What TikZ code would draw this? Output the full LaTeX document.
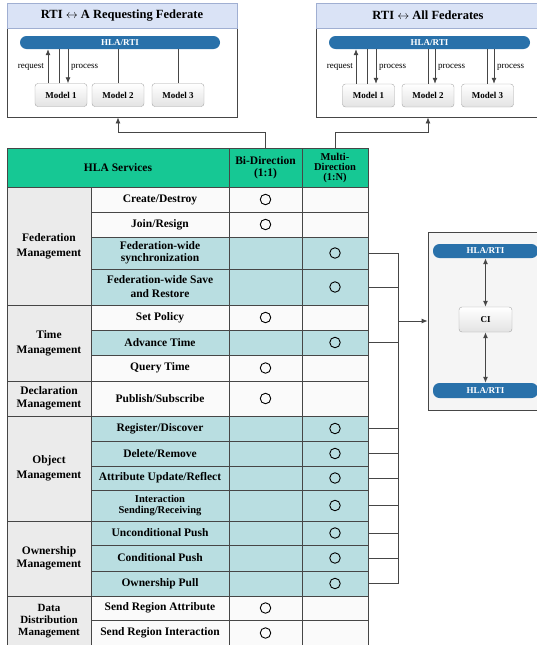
\documentclass[tikz,border=0pt]{standalone}
\usepackage{fontspec}
\setmainfont{Liberation Serif}
\usetikzlibrary{arrows.meta, positioning, calc}
\definecolor{hdrgreen}{RGB}{22, 200, 148}
\definecolor{rowblue}{RGB}{185, 222, 225}
\definecolor{rowwhite}{RGB}{250, 250, 250}
\definecolor{groupgray}{RGB}{235, 235, 235}
\definecolor{pillblue}{RGB}{41, 113, 170}
\definecolor{titleblue}{RGB}{218, 227, 246}
\definecolor{titleedge}{RGB}{160, 175, 210}
\definecolor{cibg}{RGB}{245, 245, 245}
\definecolor{gridgray}{RGB}{70, 70, 70}

\begin{document}
\begin{tikzpicture}[x=1pt, y=-1pt,
  grid/.style={draw=gridgray, line width=0.8pt, inner sep=1pt},
  svc/.style={grid, minimum width=138, align=center, font=\fontsize{11.5}{12.5}\selectfont\bfseries},
  bicell/.style={grid, minimum width=73},
  multicell/.style={grid, minimum width=66},
  group/.style={grid, fill=groupgray, minimum width=84, align=center, font=\fontsize{11.5}{15}\selectfont\bfseries},
  head/.style={grid, fill=hdrgreen, minimum height=39, align=center, font=\fontsize{11.5}{12}\selectfont\bfseries},
  ring/.style={circle, draw=black, line width=0.9pt, minimum size=10.5, inner sep=0},
  pill/.style={fill=pillblue, rounded corners=6.5, minimum height=13, inner sep=0, text=white, font=\fontsize{9}{10}\selectfont\bfseries},
  model/.style={draw=gray!70, rounded corners=3, top color=white, bottom color=gray!22, minimum width=52, minimum height=23, inner sep=0, font=\fontsize{9}{10}\selectfont\bfseries},
  frame/.style={draw=gridgray, line width=0.8pt, inner sep=0},
  titlebar/.style={draw=titleedge, fill=titleblue, minimum height=25, inner sep=0, font=\fontsize{12.5}{14}\selectfont\bfseries},
  tag/.style={inner sep=1pt, font=\fontsize{9}{10}\selectfont},
  wire/.style={draw=gridgray, line width=0.8pt},
  >={Latex[length=6pt, width=5pt]}
]
  \useasboundingbox (0,0) rectangle (537,645);

  % RTI <-> A Requesting Federate
  \node[frame, minimum width=230, minimum height=114] (lbox) at (122,60) {};
  \node[titlebar, minimum width=230] (ltitle) at (122,15.5) {RTI $\leftrightarrow$ A Requesting Federate};
  \node[pill, minimum width=200] (lpill) at (120,42.5) {HLA/RTI};
  \node[model] (lm1) at (61,95) {Model 1};
  \node[model] (lm2) at (118,95) {Model 2};
  \node[model] (lm3) at (178,95) {Model 3};

  \draw[wire, ->] ([xshift=-13]lm1.north) -- ([xshift=-13]lm1.north |- lpill.south);
  \draw[wire] ([xshift=-2]lm1.north) -- ([xshift=-2]lm1.north |- lpill.south);
  \draw[wire, ->] ([xshift=7]lm1.north |- lpill.south) -- ([xshift=7]lm1.north);
  \draw[wire] (lm2.north) -- (lm2.north |- lpill.south);
  \draw[wire] (lm3.north) -- (lm3.north |- lpill.south);
  \node[tag, anchor=east] (lreq) at (45,67) {request};
  \node[tag, anchor=west] (lproc) at (70,67) {process};

  % RTI <-> All Federates
  \node[frame, minimum width=224, minimum height=114] (rbox) at (428,60) {};
  \node[titlebar, minimum width=224] (rtitle) at (428,15.5) {RTI $\leftrightarrow$ All Federates};
  \node[pill, minimum width=201] (rpill) at (429.5,42.5) {HLA/RTI};
  \node[model] (rm1) at (368.5,95.5) {Model 1};
  \node[model] (rm2) at (428,95.5) {Model 2};
  \node[model] (rm3) at (487.5,95.5) {Model 3};

  \draw[wire, ->] ([xshift=-12.5]rm1.north) -- ([xshift=-12.5]rm1.north |- rpill.south);
  \draw[wire] ([xshift=-1.5]rm1.north) -- ([xshift=-1.5]rm1.north |- rpill.south);
  \draw[wire, ->] ([xshift=7.5]rm1.north |- rpill.south) -- ([xshift=7.5]rm1.north);
  \draw[wire] (rm2.north) -- (rm2.north |- rpill.south);
  \draw[wire, ->] ([xshift=7]rm2.north |- rpill.south) -- ([xshift=7]rm2.north);
  \draw[wire] (rm3.north) -- (rm3.north |- rpill.south);
  \draw[wire, ->] ([xshift=6.5]rm3.north |- rpill.south) -- ([xshift=6.5]rm3.north);
  \node[tag, anchor=east] (rreq) at (354,67) {request};
  \node[tag, anchor=west] (rproc1) at (378,67) {process};
  \node[tag, anchor=west] (rproc2) at (437,67) {process};
  \node[tag, anchor=west] (rproc3) at (496,67) {process};

  % Table header
  \node[head, minimum width=222] (hSvc) at (118,167.5) {HLA Services};
  \node[head, minimum width=73] (hBi) at (265.5,167.5) {Bi-Direction\\(1:1)};
  \node[head, minimum width=66, font=\fontsize{10.5}{10}\selectfont\bfseries] (hMulti) at (335,167.5) {Multi-\\Direction\\(1:N)};

  % Service groups
  \node[group, minimum height=118] (gFed) at (49,246) {Federation\\Management};
  \node[group, minimum height=76] (gTime) at (49,343) {Time\\Management};
  \node[group, minimum height=35, font=\fontsize{11.5}{12.5}\selectfont\bfseries] (gDecl) at (49,398.5) {Declaration\\Management};
  \node[group, minimum height=105] (gObj) at (49,468.5) {Object\\Management};
  \node[group, minimum height=75, font=\fontsize{11.5}{13}\selectfont\bfseries] (gOwn) at (49,558.5) {Ownership\\Management};
  \node[group, minimum height=50, font=\fontsize{11}{12}\selectfont\bfseries] (gDdm) at (49,621) {Data\\Distribution\\Management};

  % Services
  \node[svc, fill=rowwhite, minimum height=25] (s1) at (160,199.5) {Create/Destroy};
  \node[svc, fill=rowwhite, minimum height=25] (s2) at (160,224.5) {Join/Resign};
  \node[svc, fill=rowblue, minimum height=32, font=\fontsize{11.5}{12}\selectfont\bfseries] (s3) at (160,253) {Federation-wide\\synchronization};
  \node[svc, fill=rowblue, minimum height=36, font=\fontsize{11.5}{14}\selectfont\bfseries] (s4) at (160,287) {Federation-wide Save\\and Restore};
  \node[svc, fill=rowwhite, minimum height=25] (s5) at (160,317.5) {Set Policy};
  \node[svc, fill=rowblue, minimum height=25] (s6) at (160,342.5) {Advance Time};
  \node[svc, fill=rowwhite, minimum height=26] (s7) at (160,368) {Query Time};
  \node[svc, fill=rowwhite, minimum height=35] (s8) at (160,398.5) {Publish/Subscribe};
  \node[svc, fill=rowblue, minimum height=25] (s9) at (160,428.5) {Register/Discover};
  \node[svc, fill=rowblue, minimum height=25] (s10) at (160,453.5) {Delete/Remove};
  \node[svc, fill=rowblue, minimum height=24] (s11) at (160,478) {Attribute Update/Reflect};
  \node[svc, fill=rowblue, minimum height=31, font=\fontsize{10.5}{11.5}\selectfont\bfseries] (s12) at (160,505.5) {Interaction\\Sending/Receiving};
  \node[svc, fill=rowblue, minimum height=24] (s13) at (160,533) {Unconditional Push};
  \node[svc, fill=rowblue, minimum height=26] (s14) at (160,558) {Conditional Push};
  \node[svc, fill=rowblue, minimum height=25] (s15) at (160,583.5) {Ownership Pull};
  \node[svc, fill=rowwhite, minimum height=24] (s16) at (160,608) {Send Region Attribute};
  \node[svc, fill=rowwhite, minimum height=26] (s17) at (160,633) {Send Region Interaction};

  % Bi-direction column
  \node[bicell, fill=rowwhite, minimum height=25] (b1) at (265.5,199.5) {};
  \node[bicell, fill=rowwhite, minimum height=25] (b2) at (265.5,224.5) {};
  \node[bicell, fill=rowblue, minimum height=32] (b3) at (265.5,253) {};
  \node[bicell, fill=rowblue, minimum height=36] (b4) at (265.5,287) {};
  \node[bicell, fill=rowwhite, minimum height=25] (b5) at (265.5,317.5) {};
  \node[bicell, fill=rowblue, minimum height=25] (b6) at (265.5,342.5) {};
  \node[bicell, fill=rowwhite, minimum height=26] (b7) at (265.5,368) {};
  \node[bicell, fill=rowwhite, minimum height=35] (b8) at (265.5,398.5) {};
  \node[bicell, fill=rowblue, minimum height=25] (b9) at (265.5,428.5) {};
  \node[bicell, fill=rowblue, minimum height=25] (b10) at (265.5,453.5) {};
  \node[bicell, fill=rowblue, minimum height=24] (b11) at (265.5,478) {};
  \node[bicell, fill=rowblue, minimum height=31] (b12) at (265.5,505.5) {};
  \node[bicell, fill=rowblue, minimum height=24] (b13) at (265.5,533) {};
  \node[bicell, fill=rowblue, minimum height=26] (b14) at (265.5,558) {};
  \node[bicell, fill=rowblue, minimum height=25] (b15) at (265.5,583.5) {};
  \node[bicell, fill=rowwhite, minimum height=24] (b16) at (265.5,608) {};
  \node[bicell, fill=rowwhite, minimum height=26] (b17) at (265.5,633) {};

  % Multi-direction column
  \node[multicell, fill=rowwhite, minimum height=25] (m1) at (335,199.5) {};
  \node[multicell, fill=rowwhite, minimum height=25] (m2) at (335,224.5) {};
  \node[multicell, fill=rowblue, minimum height=32] (m3) at (335,253) {};
  \node[multicell, fill=rowblue, minimum height=36] (m4) at (335,287) {};
  \node[multicell, fill=rowwhite, minimum height=25] (m5) at (335,317.5) {};
  \node[multicell, fill=rowblue, minimum height=25] (m6) at (335,342.5) {};
  \node[multicell, fill=rowwhite, minimum height=26] (m7) at (335,368) {};
  \node[multicell, fill=rowwhite, minimum height=35] (m8) at (335,398.5) {};
  \node[multicell, fill=rowblue, minimum height=25] (m9) at (335,428.5) {};
  \node[multicell, fill=rowblue, minimum height=25] (m10) at (335,453.5) {};
  \node[multicell, fill=rowblue, minimum height=24] (m11) at (335,478) {};
  \node[multicell, fill=rowblue, minimum height=31] (m12) at (335,505.5) {};
  \node[multicell, fill=rowblue, minimum height=24] (m13) at (335,533) {};
  \node[multicell, fill=rowblue, minimum height=26] (m14) at (335,558) {};
  \node[multicell, fill=rowblue, minimum height=25] (m15) at (335,583.5) {};
  \node[multicell, fill=rowwhite, minimum height=24] (m16) at (335,608) {};
  \node[multicell, fill=rowwhite, minimum height=26] (m17) at (335,633) {};

  % Marks
  \node[ring] (rb1) at (b1) {};
  \node[ring] (rb2) at (b2) {};
  \node[ring] (rb5) at (b5) {};
  \node[ring] (rb7) at (b7) {};
  \node[ring] (rb8) at (b8) {};
  \node[ring] (rb16) at (b16) {};
  \node[ring] (rb17) at (b17) {};
  \node[ring] (rm3) at (m3) {};
  \node[ring] (rm4) at (m4) {};
  \node[ring] (rm6) at (m6) {};
  \node[ring] (rm9) at (m9) {};
  \node[ring] (rm10) at (m10) {};
  \node[ring] (rm11) at (m11) {};
  \node[ring] (rm12) at (m12) {};
  \node[ring] (rm13) at (m13) {};
  \node[ring] (rm14) at (m14) {};
  \node[ring] (rm15) at (m15) {};

  % Header -> federate boxes
  \draw[wire, ->] (hBi.north) -- ++(0,-15) -| (lm2.south |- lbox.south);
  \draw[wire, ->] (hMulti.north) -- ++(0,-15) -| (rm2.south |- rbox.south);

  % CI box
  \node[frame, fill=cibg, minimum width=117, minimum height=178] (cibox) at (486.5,321) {};
  \node[pill, minimum width=105, minimum height=14] (citop) at (485.5,251) {HLA/RTI};
  \node[pill, minimum width=105, minimum height=15] (cibot) at (485.5,390.5) {HLA/RTI};
  \node[model, minimum width=53, minimum height=25] (ci) at (485.5,319.5) {CI};
  \draw[wire, line width=1pt, <->] (citop.south) -- (ci.north);
  \draw[wire, line width=1pt, <->] (ci.south) -- (cibot.north);

  % Multi-direction rows -> CI
  \coordinate (bus) at (398,321);
  \draw[wire] (m3.east) -- (m3.east -| bus);
  \draw[wire] (m4.east) -- (m4.east -| bus);
  \draw[wire] (m6.east) -- (m6.east -| bus);
  \draw[wire] (m9.east) -- (m9.east -| bus);
  \draw[wire] (m10.east) -- (m10.east -| bus);
  \draw[wire] (m11.east) -- (m11.east -| bus);
  \draw[wire] (m12.east) -- (m12.east -| bus);
  \draw[wire] (m13.east) -- (m13.east -| bus);
  \draw[wire] (m14.east) -- (m14.east -| bus);
  \draw[wire] (m15.east) -- (m15.east -| bus);
  \draw[wire] (m3.east -| bus) -- (m15.east -| bus);
  \draw[wire, ->] (bus) -- (cibox.west);
\end{tikzpicture}
\end{document}
